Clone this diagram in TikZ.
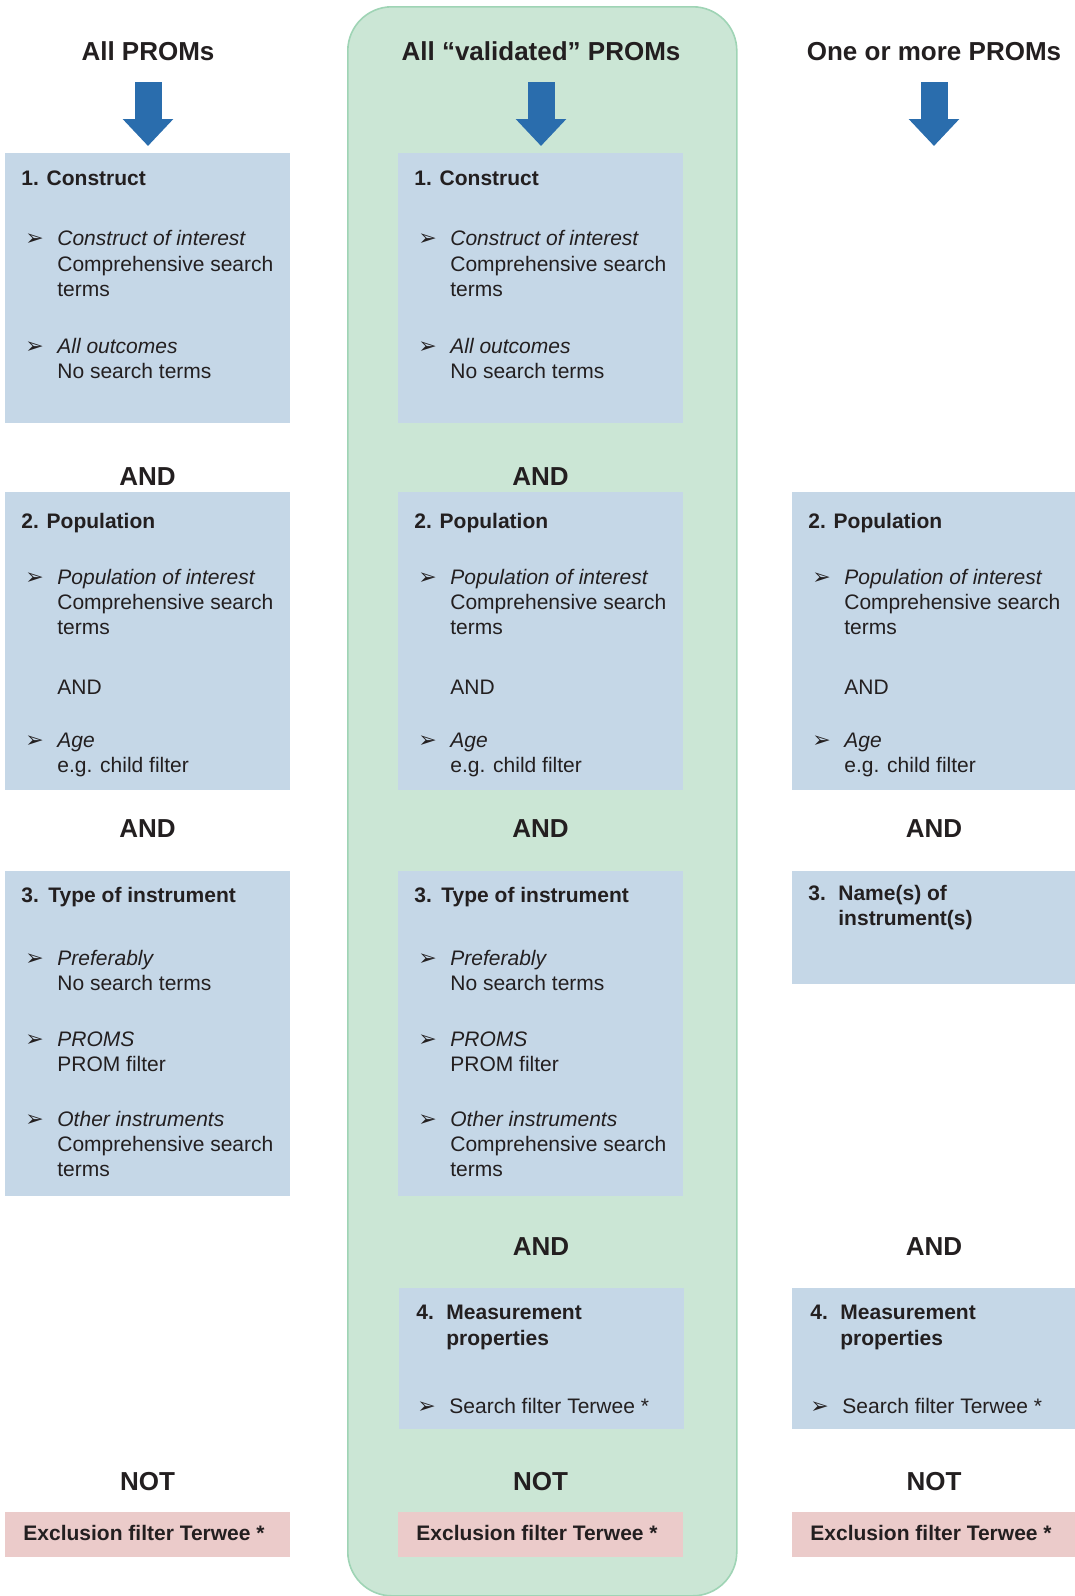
\documentclass[tikz,border=0pt]{standalone}
\usepackage{fontspec}
\setmainfont{Liberation Sans}
\newfontfamily\dingfont{DejaVu Sans}
\usetikzlibrary{arrows.meta}

\definecolor{boxblue}{HTML}{C5D7E7}
\definecolor{panelgreen}{HTML}{CBE6D5}
\definecolor{panelline}{HTML}{9FD4B5}
\definecolor{exclpink}{HTML}{EBCBCA}
\definecolor{arrowblue}{HTML}{2A6DAD}
\definecolor{ink}{HTML}{231F20}

\newcommand{\bulglyph}{➢}

\begin{document}
\begin{tikzpicture}[x=0.5pt,y=-0.5pt,
    every node/.style={inner sep=0pt,text=ink},
    box/.style={fill=boxblue,anchor=north west,minimum width=142.5pt},
    excl/.style={fill=exclpink,anchor=north west,minimum width=142.5pt,minimum height=22.5pt},
    title/.style={anchor=base,font=\bfseries\fontsize{13}{15}\selectfont},
    head/.style={anchor=base west,font=\bfseries\fontsize{10.5}{12.5}\selectfont},
    txt/.style={anchor=base west,font=\fontsize{10.5}{12.5}\selectfont},
    bul/.style={anchor=base west,font=\dingfont\fontsize{11}{11}\selectfont},
    bigarrow/.style={line width=13.5pt,draw=arrowblue,-{Triangle[width=24.5pt,length=13.5pt]}}]
  \useasboundingbox (0,0) rectangle (1075,1596);

  % green panel behind the middle column
  \node[draw=panelline,fill=panelgreen,line width=0.8pt,rounded corners=22pt,
        anchor=north west,minimum width=194.5pt,minimum height=794.5pt] (panel) at (347,6) {};

  \node[title] (tL) at (148,60) {All PROMs};
  \node[title] (tM) at (541,60) {All ``validated'' PROMs};
  \node[title] (tR) at (934,60) {One or more PROMs};

  \foreach \ax/\a in {148/L,541/M,934/R}{
    \coordinate (\a s) at (\ax,82);
    \coordinate (\a e) at (\ax,146);
    \draw[bigarrow] (\a s) -- (\a e);
  }

  % left and middle columns
  \foreach \cx/\c in {5/L,398/M}{
    \node[box,minimum height=135pt] (\c1) at (\cx,153) {};
    \node[head] (\c1h) at (\cx+16,185) {1. Construct};
    \foreach \y [count=\k] in {245,353}
      \node[bul] (\c1b\k) at (\cx+20,\y) {\bulglyph};
    \foreach \y/\t [count=\k] in {245/\itshape Construct of interest,271/Comprehensive search,
        296/terms,353/\itshape All outcomes,378/No search terms}
      \node[txt] (\c1t\k) at (\cx+52,\y) {\t};

    \node[title] (\c and1) at (\cx+142.5,485) {AND};

    \node[box,minimum height=149pt] (\c2) at (\cx,492) {};
    \node[head] (\c2h) at (\cx+16,528) {2. Population};
    \foreach \y [count=\k] in {584,747}
      \node[bul] (\c2b\k) at (\cx+20,\y) {\bulglyph};
    \foreach \y/\t [count=\k] in {584/\itshape Population of interest,609/Comprehensive search,
        634/terms,694/AND,747/\itshape Age,772/e.g. child filter}
      \node[txt] (\c2t\k) at (\cx+52,\y) {\t};

    \node[title] (\c and2) at (\cx+142.5,837) {AND};

    \node[box,minimum height=162.5pt] (\c3) at (\cx,871) {};
    \node[head] (\c3n) at (\cx+16,902) {3.};
    \node[head] (\c3h) at (\cx+43,902) {Type of instrument};
    \foreach \y [count=\k] in {965,1046,1126}
      \node[bul] (\c3b\k) at (\cx+20,\y) {\bulglyph};
    \foreach \y/\t [count=\k] in {965/\itshape Preferably,990/No search terms,
        1046/\itshape PROMS,1071/PROM filter,1126/\itshape Other instruments,
        1151/Comprehensive search,1176/terms}
      \node[txt] (\c3t\k) at (\cx+52,\y) {\t};

    \node[title] (\c not) at (\cx+142.5,1490) {NOT};
    \node[excl] (\c ex) at (\cx,1512) {};
    \node[head] (\c ext) at (\cx+18,1540) {Exclusion filter Terwee *};
  }

  % middle column, measurement properties
  \node[title] (Mand3) at (541,1255) {AND};
  \node[box,minimum height=70.5pt] (M4) at (399,1288) {};
  \node[head] (M4n) at (416,1319) {4.};
  \node[head] (M4h) at (446,1319) {Measurement};
  \node[head] (M4h2) at (446,1345) {properties};
  \node[bul] (M4b) at (417,1413) {\bulglyph};
  \node[txt] (M4t) at (449,1413) {Search filter Terwee *};

  % right column
  \node[box,minimum width=141.5pt,minimum height=149pt] (R2) at (792,492) {};
  \node[head] (R2h) at (808,528) {2. Population};
  \foreach \y [count=\k] in {584,747}
    \node[bul] (R2b\k) at (812,\y) {\bulglyph};
  \foreach \y/\t [count=\k] in {584/\itshape Population of interest,609/Comprehensive search,
      634/terms,694/AND,747/\itshape Age,772/e.g. child filter}
    \node[txt] (R2t\k) at (844,\y) {\t};

  \node[title] (Rand2) at (934,837) {AND};
  \node[box,minimum width=141.5pt,minimum height=56.5pt] (R3) at (792,871) {};
  \node[head] (R3n) at (808,900) {3.};
  \node[head] (R3h) at (838,900) {Name(s) of};
  \node[head] (R3h2) at (838,925) {instrument(s)};

  \node[title] (Rand3) at (934,1255) {AND};
  \node[box,minimum width=141.5pt,minimum height=70.5pt] (R4) at (792,1288) {};
  \node[head] (R4n) at (810,1319) {4.};
  \node[head] (R4h) at (840,1319) {Measurement};
  \node[head] (R4h2) at (840,1345) {properties};
  \node[bul] (R4b) at (810,1413) {\bulglyph};
  \node[txt] (R4t) at (842,1413) {Search filter Terwee *};

  \node[title] (Rnot) at (934,1490) {NOT};
  \node[excl,minimum width=141.5pt] (Rex) at (792,1512) {};
  \node[head] (Rext) at (810,1540) {Exclusion filter Terwee *};
\end{tikzpicture}
\end{document}
